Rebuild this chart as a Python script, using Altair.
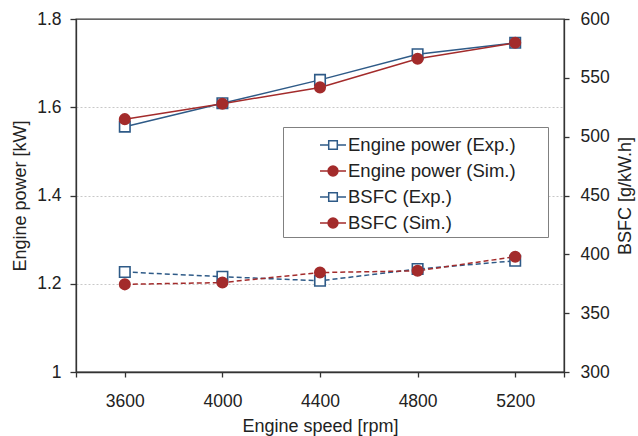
import altair as alt
import pandas as pd

# ---- data ----
speed = [3600, 4000, 4400, 4800, 5200]
power_exp = [1.556, 1.609, 1.662, 1.720, 1.746]
power_sim = [1.573, 1.608, 1.645, 1.710, 1.746]
bsfc_exp = [385.0, 381.0, 377.5, 387.5, 394.5]
bsfc_sim = [374.5, 376.0, 384.5, 386.0, 398.0]
series_names = ["Engine power (Exp.)", "Engine power (Sim.)", "BSFC (Exp.)", "BSFC (Sim.)"]
x_ticks = [3400, 3600, 4000, 4400, 4800, 5200, 5400]
left_ticks = [1.0, 1.2, 1.4, 1.6, 1.8]
right_ticks = [300, 350, 400, 450, 500, 550, 600]

BLUE = "#2E5A87"
RED = "#A32B2B"
FONT = "Liberation Sans"
BLANK = "\u2800" * 2  # non-trimmed blank padding for legend width

df_p = pd.DataFrame(
    {"speed": speed * 2, "value": power_exp + power_sim,
     "series": [series_names[0]] * 5 + [series_names[1]] * 5}
)
df_b = pd.DataFrame(
    {"speed": speed * 2, "value": bsfc_exp + bsfc_sim,
     "series": [series_names[2]] * 5 + [series_names[3]] * 5}
)
df_leg = pd.DataFrame({"series": series_names})

color_scale = alt.Scale(domain=series_names, range=[BLUE, RED, BLUE, RED])
fill_scale = alt.Scale(domain=series_names, range=["white", RED, "white", RED])
shape_scale = alt.Scale(domain=series_names, range=["square", "circle", "square", "circle"])

x_enc = alt.X(
    "speed:Q",
    scale=alt.Scale(domain=[3400, 5400], nice=False, zero=False),
    axis=alt.Axis(
        values=x_ticks,
        labelExpr="(datum.value == 3400 || datum.value == 5400) ? '' : datum.label",
        title="Engine speed [rpm]",
        grid=False, tickSize=5, labelPadding=15, titlePadding=8,
        labelFontSize=17.5, titleFontSize=18, titleFontWeight="normal",
        labelColor="#222", titleColor="#222", domainColor="#333",
        tickColor="#333", domainWidth=1.3, tickWidth=1.3, format="d",
    ),
)

y_left = alt.Y(
    "value:Q",
    scale=alt.Scale(domain=[1.0, 1.8], nice=False, zero=False),
    axis=alt.Axis(
        values=left_ticks, format=".1~f", title="Engine power [kW]",
        grid=True, gridDash=[2, 2], gridColor="#c8c8c8", gridWidth=1,
        gridOpacity={"condition": {"test": "datum.value <= 1.01 || datum.value >= 1.79", "value": 0}, "value": 1},
        tickSize=6, labelPadding=9, titlePadding=7,
        labelFontSize=17.5, titleFontSize=18, titleFontWeight="normal",
        labelColor="#222", titleColor="#222", domainColor="#333",
        tickColor="#333", domainWidth=1.3, tickWidth=1.3,
    ),
)

y_right = alt.Y(
    "value:Q",
    scale=alt.Scale(domain=[300, 600], nice=False, zero=False),
    axis=alt.Axis(
        orient="right", values=right_ticks, format="d", title="BSFC [g/kW.h]",
        grid=False, tickSize=5, labelPadding=11, titlePadding=7,
        titleAngle=270, titleBaseline="top",
        labelFontSize=17.5, titleFontSize=18, titleFontWeight="normal",
        labelColor="#222", titleColor="#222", domainColor="#333",
        tickColor="#333", domainWidth=1.3, tickWidth=1.3,
    ),
)

color_enc = alt.Color("series:N", scale=color_scale, legend=None)
fill_enc = alt.Fill("series:N", scale=fill_scale, legend=None)
shape_enc = alt.Shape("series:N", scale=shape_scale, legend=None)

base_p = alt.Chart(df_p).encode(x=x_enc, y=y_left, color=color_enc)
power = alt.layer(
    base_p.mark_line(strokeWidth=1.5),
    base_p.mark_point(size=110, strokeWidth=1.6, opacity=1, fillOpacity=1).encode(
        fill=fill_enc, shape=shape_enc
    ),
)

base_b = alt.Chart(df_b).encode(x=x_enc, y=y_right, color=color_enc)
bsfc = alt.layer(
    base_b.mark_line(strokeWidth=1.5, strokeDash=[5, 3]),
    base_b.mark_point(size=110, strokeWidth=1.6, opacity=1, fillOpacity=1).encode(
        fill=fill_enc, shape=shape_enc
    ),
)

# legend-only layer (points invisible)
SQ = "M-1,0H-0.33M-0.33,-0.33H0.33V0.33H-0.33ZM0.33,0H1"
CI = "M-1,0H1M0.38,0A0.38,0.38,0,1,1,-0.38,0A0.38,0.38,0,1,1,0.38,0Z"
leg = alt.Legend(
    title=None, orient="none", legendX=207, legendY=108,
    fillColor="white", strokeColor="#808080", padding=4, rowPadding=2,
    symbolSize=676, symbolOffset=32, symbolStrokeWidth=1.5, symbolOpacity=1,
    labelOffset=1, labelFontSize=18.5, labelColor="#222", labelFont=FONT,
    labelLimit=400,
    labelExpr="datum.label + '" + BLANK + "'",
)
legend_layer = alt.Chart(df_leg).mark_point(opacity=0).encode(
    color=alt.Color("series:N", scale=color_scale, legend=leg),
    fill=alt.Fill("series:N", scale=fill_scale, legend=leg),
    shape=alt.Shape("series:N", scale=alt.Scale(domain=series_names, range=[SQ, CI, SQ, CI]), legend=leg),
)

chart = (
    alt.layer(power, bsfc, legend_layer)
    .resolve_scale(y="independent", color="independent", fill="independent",
                   shape="independent")
    .properties(width=488, height=353,
                autosize=alt.AutoSizeParams(type="none"),
                padding={"left": 76, "top": 19, "right": 74, "bottom": 64})
    .configure(font=FONT, background="white")
    .configure_view(stroke="#333", strokeWidth=1.3)
)

chart.save("out.html", embed_options={"renderer": "svg", "actions": False})
